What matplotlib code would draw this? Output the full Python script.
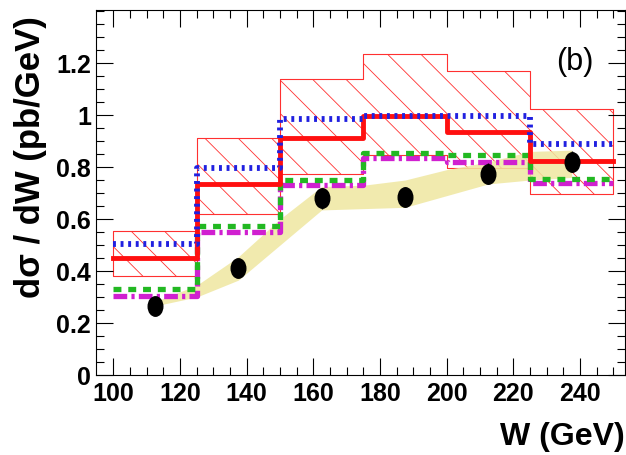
import matplotlib.pyplot as plt
import numpy as np
from matplotlib.path import Path

# 数据
edges = [100, 125, 150, 175, 200, 225, 250]
red_c = [0.45, 0.735, 0.91, 0.995, 0.935, 0.825]
red_lo = [0.38, 0.62, 0.775, 0.845, 0.795, 0.695]
red_hi = [0.555, 0.91, 1.14, 1.235, 1.17, 1.025]
blue = [0.505, 0.795, 0.985, 0.995, 0.995, 0.89]
green = [0.33, 0.575, 0.75, 0.855, 0.845, 0.755]
magenta = [0.305, 0.55, 0.73, 0.835, 0.82, 0.74]

band_w = [114, 125, 137.5, 150, 162.5, 175, 187.5, 200, 212.5, 225, 237.5]
band_lo = [0.27, 0.30, 0.365, 0.50, 0.635, 0.64, 0.645, 0.69, 0.735, 0.75, 0.76]
band_hi = [0.29, 0.345, 0.455, 0.60, 0.725, 0.73, 0.75, 0.79, 0.82, 0.86, 0.865]

data_w = [112.5, 137.5, 162.5, 187.5, 212.5, 237.5]
data_y = [0.265, 0.41, 0.68, 0.685, 0.775, 0.82]
data_err = [0.03, 0.03, 0.04, 0.04, 0.04, 0.04]

plt.rcParams['font.family'] = ['Liberation Sans', 'DejaVu Sans']
plt.rcParams['hatch.linewidth'] = 0.6

fig = plt.figure(figsize=(6.26, 4.55), dpi=100)
ax = fig.add_axes([0.1534, 0.1758, 0.845, 0.8022])


def steps(vals):
    return list(vals) + [vals[-1]]


# 竖向拉长的圆点（原图被纵向拉伸）
circ = Path.unit_circle()
ellipse = Path(circ.vertices * [0.75, 1.0], circ.codes)

# 阴影误差带
ax.fill_between(edges, steps(red_lo), steps(red_hi), step='post',
                facecolor='none', edgecolor='#ff3030', hatch='\\', linewidth=0.8, zorder=1)

# 黄色带
ax.fill_between(band_w, band_lo, band_hi, color='#efe7a0', alpha=0.85, lw=0, zorder=2)

ax.step(edges, steps(magenta), where='post', color='#d020d0', lw=3.8,
        linestyle=(0, (2.6, 0.8, 0.6, 0.8)), zorder=3)
ax.step(edges, steps(green), where='post', color='#22b822', lw=3.8,
        linestyle=(0, (1.5, 1.3)), zorder=4)
ax.step(edges, steps(red_c), where='post', color='#ff1010', lw=3.5, zorder=5)
ax.step(edges, steps(blue), where='post', color='#2020e0', lw=4.2,
        linestyle=(0, (0.5, 0.8)), zorder=6)

ax.errorbar(data_w, data_y, yerr=data_err, fmt='none', ecolor='black',
            elinewidth=1, capsize=0, zorder=7)
ax.plot(data_w, data_y, linestyle='none', marker=ellipse, color='black', ms=14, zorder=8)

ax.set_xlim(94.8, 253.5)
ax.set_ylim(0, 1.404)
ax.set_xticks(range(100, 241, 20))
ax.set_xticks(np.arange(100, 251, 5), minor=True)
ax.set_yticks([0, 0.2, 0.4, 0.6, 0.8, 1.0, 1.2])
ax.set_yticklabels(['0', '0.2', '0.4', '0.6', '0.8', '1', '1.2'])
ax.set_yticks(np.arange(0, 1.401, 0.05), minor=True)
ax.tick_params(which='both', direction='in', top=True, right=True, labelsize=18, width=0.8)
ax.tick_params(which='major', length=12)
ax.tick_params(which='minor', length=6)
ax.tick_params(axis='x', pad=5)
for lab in ax.get_xticklabels() + ax.get_yticklabels():
    lab.set_fontweight('bold')
for s in ax.spines.values():
    s.set_linewidth(0.8)

ax.text(0.905, 0.857, '(b)', transform=ax.transAxes, fontsize=22, ha='center', va='center')

fig.text(0.048, 0.965, 'd\u03c3 / dW (pb/GeV)', rotation=90, ha='center', va='top',
         fontsize=25, fontweight='bold')
fig.text(0.998, 0.04, 'W (GeV)', ha='right', va='center', fontsize=23, fontweight='bold')

plt.savefig('out.png', dpi=100)
